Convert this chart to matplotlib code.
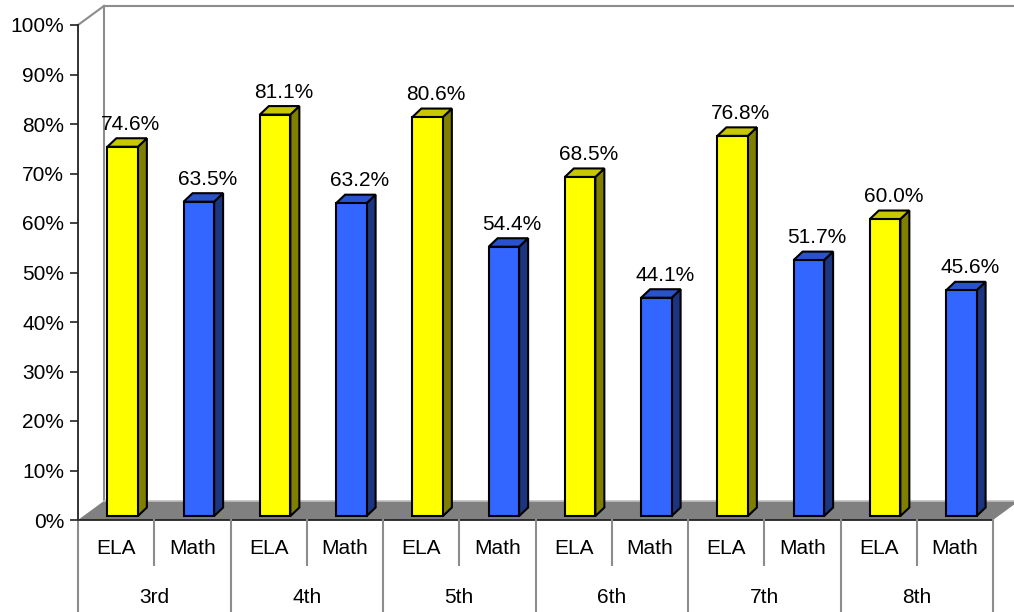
import matplotlib
matplotlib.use('Agg')
import matplotlib.pyplot as plt
from matplotlib.patches import Polygon

plt.rcParams['font.family'] = ['Liberation Sans', 'DejaVu Sans']

grades = ['3rd', '4th', '5th', '6th', '7th', '8th']
subjects = ['ELA', 'Math']
ela = [74.6, 81.1, 80.6, 68.5, 76.8, 60.0]
math = [63.5, 63.2, 54.4, 44.1, 51.7, 45.6]
yticks = list(range(0, 101, 10))

face_colors = {
    'ELA': ('#FFFF00', '#808000', '#C8C800'),    # front, side, top
    'Math': ('#3366FF', '#1C3580', '#2A52CC'),
}

fig = plt.figure(figsize=(10.14, 6.12), dpi=100)
ax = fig.add_axes([78 / 1014, 92 / 612, 915 / 1014, 495 / 612])
n = len(grades) * len(subjects)
ax.set_xlim(0, n)
ax.set_ylim(0, 100)

# pseudo-3d offsets in data units
WALL_DX, WALL_DY = 0.34, 3.84
BAR_X0, BAR_Y0 = 0.085, 0.8
BAR_W = 0.40
BAR_DX, BAR_DY = 0.118, 1.72

# floor
floor = Polygon([(0, 0), (n, 0), (n + WALL_DX, WALL_DY), (WALL_DX, WALL_DY)],
                closed=True, facecolor='#808080', edgecolor='none',
                clip_on=False, zorder=1)
ax.add_patch(floor)
ax.plot([WALL_DX, n + WALL_DX], [WALL_DY, WALL_DY], color='#BFBFBF',
        lw=1.2, clip_on=False, zorder=1.5)
ax.plot([0, n], [0, 0], color='#222222', lw=1.3, clip_on=False, zorder=1.6)

# back wall edges
wall_kw = dict(color='#8C8C8C', lw=1.5, clip_on=False, zorder=0.5)
ax.plot([WALL_DX, WALL_DX], [WALL_DY, 100 + WALL_DY], **wall_kw)
ax.plot([0, WALL_DX], [100, 100 + WALL_DY], **wall_kw)
ax.plot([WALL_DX, n + WALL_DX + 1], [100 + WALL_DY, 100 + WALL_DY], **wall_kw)


def draw_bar(x, value, subject):
    front, side, top = face_colors[subject]
    xl = x - BAR_W / 2 + BAR_X0
    xr = xl + BAR_W
    yb = BAR_Y0
    yt = BAR_Y0 + value
    kw = dict(closed=True, edgecolor='black', lw=1.5, clip_on=False,
              joinstyle='miter', zorder=3)
    ax.add_patch(Polygon([(xr, yb), (xr + BAR_DX, yb + BAR_DY),
                          (xr + BAR_DX, yt + BAR_DY), (xr, yt)],
                         facecolor=side, **kw))
    ax.add_patch(Polygon([(xl, yt), (xr, yt), (xr + BAR_DX, yt + BAR_DY),
                          (xl + BAR_DX, yt + BAR_DY)],
                         facecolor=top, **kw))
    ax.add_patch(Polygon([(xl, yb), (xr, yb), (xr, yt), (xl, yt)],
                         facecolor=front, **kw))
    ax.text(x + BAR_X0 + 0.11, yt + BAR_DY + 1.7, f'{value:.1f}%',
            ha='center', va='baseline', fontsize=15, zorder=4)


for g in range(len(grades)):
    draw_bar(2 * g + 0.5, ela[g], 'ELA')
    draw_bar(2 * g + 1.5, math[g], 'Math')

# two-level category axis
sep_kw = dict(color='#8C8C8C', lw=1.5, clip_on=False, zorder=2)
for g in range(len(grades)):
    ax.plot([2 * g, 2 * g], [0, -19], **sep_kw)
    ax.plot([2 * g + 1, 2 * g + 1], [0, -9.1], **sep_kw)
    for k, s in enumerate(subjects):
        ax.text(2 * g + k + 0.5, -5.7, s, ha='center', va='center', fontsize=15)
    ax.text(2 * g + 1, -15.6, grades[g], ha='center', va='center', fontsize=15)
ax.plot([n, n], [0, -19], **sep_kw)

# value axis
for s in ['top', 'right', 'bottom']:
    ax.spines[s].set_visible(False)
ax.spines['left'].set_color('#222222')
ax.spines['left'].set_linewidth(1.3)
ax.set_xticks([])
ax.set_yticks(yticks)
ax.set_yticklabels([f'{t}%' for t in yticks], fontsize=15)
ax.tick_params(axis='y', length=6, width=1.2, color='#222222', pad=4)
ax.patch.set_visible(False)

fig.savefig('out.png', dpi=100)
